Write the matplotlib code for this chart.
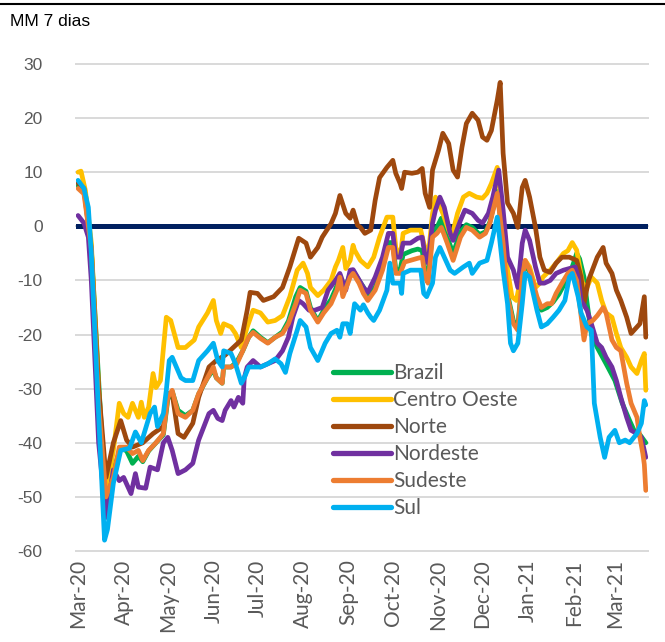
import matplotlib
matplotlib.use("Agg")
import matplotlib.pyplot as plt
import pandas as pd
from matplotlib.lines import Line2D

# days since 2020-03-01 and values (7-day moving average)
brazil_d = [0, 5, 9, 18, 19, 24, 29, 33, 37, 41, 44, 48, 53, 58, 61, 64, 68, 73, 78, 82, 88, 92, 94, 98, 99,
            104, 108, 112, 116, 119, 124, 129, 134, 139, 143, 148, 151, 155, 158, 163, 167, 172, 176, 178, 180,
            185, 187, 191, 194, 197, 202, 207, 211, 214, 216, 219, 221, 227, 231, 234, 236, 238, 241, 244, 247,
            251, 255, 260, 264, 268, 273, 277, 280, 285, 289, 292, 296, 299, 302, 304, 307, 312, 315, 319, 323,
            327, 331, 334, 336, 339, 341, 344, 346, 349, 353, 359, 365, 370, 375, 378, 382, 386]
brazil_v = [7.5, 6, -4, -48, -52, -45, -41, -41.5, -43.8, -42.5, -43.5, -41.5, -40, -38.5, -32, -30.5, -34, -35,
            -34, -31, -28, -26.5, -28, -29, -26, -26, -25, -23, -20.5, -19.3, -20.5, -21.5, -20.5, -19.5, -17.5,
            -13, -11.3, -12, -15, -17.5, -15.5, -13.5, -11, -9, -12.5, -8.8, -8.2, -10, -11.2, -12.8, -11.3, -7.5,
            -3, -3, -8, -8, -5.2, -4.5, -4.2, -4.5, -8.5, -9.5, -1, -0.2, 1.5, -2, -5, -1, 0.3, -0.2, -1.5, -1,
            0.8, 6.5, -2.5, -12.5, -17.5, -18.5, -9.5, -6.8, -8.5, -14, -15.5, -15, -14, -12.5, -10.5, -8.5,
            -7.5, -5, -6, -9.4, -14, -20, -22.4, -25.4, -28.5, -32.7, -35.9, -37.7, -38.5, -40]

co_d = [0, 2, 5, 9, 14, 19, 24, 28, 31, 34, 37, 41, 43, 45, 48, 51, 53, 56, 60, 63, 68, 73, 79, 82, 88, 92,
        94, 97, 99, 104, 107, 111, 115, 119, 124, 129, 134, 139, 144, 149, 153, 156, 158, 163, 167, 172, 175,
        177, 180, 182, 185, 187, 188, 192, 197, 201, 205, 210, 214, 216, 219, 221, 226, 233, 235, 238, 241,
        243, 245, 248, 252, 254, 258, 262, 266, 271, 275, 278, 281, 285, 289, 292, 295, 298, 302, 304, 307,
        311, 314, 316, 321, 325, 330, 333, 336, 339, 341, 343, 346, 349, 353, 356, 359, 363, 366, 369, 373,
        376, 380, 383, 385, 386]
co_v = [10, 10.2, 6.6, -3, -30, -50, -41.4, -32.7, -34.6, -35.3, -32.7, -35.3, -32.5, -35.3, -33.4, -27.2,
        -29.8, -28.5, -16.8, -17.4, -22.4, -22.4, -21, -18.6, -16, -13.7, -17.4, -19.8, -18, -18.6, -19.8,
        -22.4, -18.6, -15.5, -16, -17.7, -17.4, -16.5, -13, -8.1, -6.8, -8.7, -11.3, -12.8, -11.8, -10, -7.5,
        -6.3, -3.9, -7.8, -6.3, -3.5, -4.4, -6.3, -7.5, -5.7, -2, 1.7, 1.7, -3.9, -5.7, -1.3, -0.7, -0.7,
        -3.1, -5.7, 2.4, 5.4, 4.3, 2.4, -0.7, -2, 2.4, 5.4, 6.1, 5.4, 5.2, 6.1, 7.9, 10.9, 1.1, -8.1, -13,
        -13.7, -8.1, -6.3, -7.5, -11.3, -10.5, -9.4, -8.1, -6.8, -5, -4.5, -3, -4.4, -7.5, -10.5, -11.3,
        -9.4, -10.5, -13.7, -16, -16.8, -19.8, -22.4, -24.2, -26, -27.2, -24.8, -23.5, -30.3]

norte_d = [0, 4, 9, 14, 19, 24, 29, 33, 37, 44, 51, 58, 61, 64, 68, 72, 78, 82, 89, 94, 100, 111, 115, 117,
           122, 126, 133, 139, 144, 150, 155, 158, 163, 166, 172, 175, 178, 182, 185, 187, 190, 192, 195, 199,
           202, 205, 210, 214, 216, 219, 220, 222, 227, 231, 234, 236, 239, 241, 245, 248, 252, 255, 258, 261,
           264, 268, 272, 275, 278, 281, 285, 287, 289, 292, 296, 299, 302, 304, 307, 311, 314, 317, 321, 325,
           329, 334, 339, 342, 344, 347, 353, 357, 359, 363, 366, 369, 373, 376, 380, 382, 385, 386]
norte_v = [8, 7, -4.4, -30, -46.4, -40, -35.9, -39.5, -40.8, -40, -38.3, -37, -30.9, -30.9, -38.3, -39,
           -36.4, -31.6, -26, -24.8, -23.8, -21, -15.5, -12.2, -12.4, -13.7, -13, -11.3, -7.5, -2.2, -3.1, -5.7,
           -3.9, -2, 0.5, 2.4, 5.7, 2.4, 1.5, 3, 0.2, -0.2, -1.3, -0.7, 4.8, 9, 10.9, 12.2, 9.8, 7.9, 7, 10,
           9.8, 10, 10.7, 6.1, 3.5, 10.4, 14, 17.2, 15.3, 10.4, 9.1, 14.6, 19, 20.9, 19.6, 16.5, 15.9, 17.7,
           23.3, 26.6, 13.5, 4.3, 2.4, -0.2, 7.2, 8.5, 5.4, -0.2, -5.7, -8.1, -8.5, -6.8, -5.7, -5.7, -6.3,
           -9.4, -14.3, -10, -5.7, -3.9, -6.8, -8.7, -11.8, -13.7, -16.8, -19.8, -18.6, -18, -13, -20.5]

nordeste_d = [0, 4, 7, 9, 14, 19, 24, 28, 31, 36, 39, 41, 46, 49, 54, 58, 61, 64, 68, 73, 78, 82, 89, 92, 95,
              98, 100, 104, 106, 109, 112, 113, 115, 119, 124, 129, 134, 139, 143, 146, 150, 153, 157, 161,
              166, 170, 175, 178, 182, 185, 187, 190, 194, 197, 202, 207, 211, 214, 216, 219, 221, 226, 231,
              234, 236, 238, 241, 243, 246, 249, 253, 255, 260, 263, 268, 272, 275, 279, 282, 286, 289, 292,
              296, 299, 302, 304, 307, 311, 314, 317, 321, 325, 330, 334, 338, 340, 342, 346, 349, 353, 356,
              359, 363, 366, 369, 373, 376, 380, 383, 386]
nordeste_v = [2, 0.6, -2, -10, -40, -53.8, -45, -47, -46.4, -49.4, -45.7, -48.2, -48.4, -44.5, -45, -40, -39,
              -41.4, -45.7, -45, -43.8, -39.5, -34.6, -34, -35.5, -35.9, -34, -32.2, -33.4, -31.6, -32.7, -28,
              -26, -24.8, -26, -25.4, -24.8, -23, -20.5, -16.8, -13.7, -14.3, -15.5, -15.5, -15, -11.8, -10,
              -8.7, -11.8, -8.1, -8, -9.4, -11.3, -12.2, -9.4, -5.7, -1.3, -1.3, -5.7, -5.7, -3.1, -3.1, -2.2,
              -2, -5.7, -6.8, 0.6, 3, 5.4, 3.5, -1.3, -2.6, 1.1, 3, 2.4, 1.1, 0.6, 2.4, 5.4, 10.4, 3, -5.7,
              -8.1, -11.3, -3.1, -0.7, -2.6, -7.5, -10.5, -10.5, -10, -8.7, -8.1, -7.8, -7.5, -9.4, -13.7,
              -15.5, -18, -21.6, -22.4, -24.2, -26, -28.5, -31.6, -35.3, -37.7, -38.3, -39, -42.7]

sudeste_d = [0, 4, 9, 14, 19, 24, 28, 33, 37, 41, 44, 48, 53, 58, 61, 64, 68, 73, 78, 82, 88, 92, 94, 98, 99,
             104, 108, 112, 116, 119, 124, 129, 134, 139, 143, 148, 151, 155, 158, 163, 167, 172, 176, 178,
             180, 185, 187, 191, 194, 197, 202, 207, 211, 214, 216, 219, 222, 231, 234, 236, 238, 241, 244,
             247, 251, 255, 260, 264, 268, 273, 277, 280, 285, 289, 292, 296, 299, 302, 304, 307, 312, 315,
             319, 322, 325, 329, 333, 336, 339, 341, 344, 346, 350, 353, 357, 359, 363, 366, 369, 373, 376,
             380, 382, 384, 385, 386]
sudeste_v = [7, 6, -4, -33, -50, -46.4, -40.8, -40.8, -42, -41.4, -43.3, -41.4, -40, -38.3, -31.6, -30.3,
             -34.6, -35.3, -34, -30.9, -28, -26, -28, -29, -26, -26, -25.4, -23, -20.5, -19.6, -20.7, -21.6,
             -20.5, -19.8, -18, -14.3, -11.8, -12.4, -15.5, -17.7, -16, -14.3, -11.8, -9.4, -13, -9.4, -8.7,
             -10.5, -12.4, -13.7, -11.8, -8.1, -3.9, -3.9, -8.7, -8.7, -6.6, -5.9, -5.7, -9.4, -10.5, -2,
             -1.3, -0.2, -3.1, -6.3, -2, -0.2, -0.7, -2, -1.3, 0.6, 6.1, -3.1, -13, -18, -19.2, -9.4, -6.3,
             -8.1, -13, -15, -14.3, -14.3, -12.4, -10.5, -8.7, -8.1, -10, -14.3, -21, -18, -17.4, -16.5, -15,
             -16, -21, -22.4, -23, -29, -32.7, -35.3, -39, -42, -44, -48.8]

sul_d = [0, 4, 7, 9, 14, 18, 20, 24, 29, 35, 39, 43, 47, 49, 52, 54, 58, 60, 62, 64, 70, 73, 78, 82, 88, 92,
         95, 98, 99, 104, 107, 111, 113, 116, 124, 129, 134, 138, 141, 144, 149, 151, 155, 158, 163, 168, 172,
         176, 178, 180, 183, 185, 188, 192, 194, 197, 199, 201, 205, 210, 212, 214, 219, 220, 221, 226, 233,
         235, 237, 241, 243, 246, 249, 253, 256, 262, 266, 268, 273, 278, 281, 285, 289, 292, 294, 296, 299,
         302, 304, 307, 312, 315, 319, 323, 327, 331, 334, 336, 340, 342, 346, 349, 351, 355, 358, 361, 365,
         368, 372, 375, 380, 383, 385, 386]
sul_v = [8.5, 7, 3.5, -5, -35, -58, -56, -47.5, -41.4, -41, -38, -40, -36.4, -34.6, -33.4, -37, -34.6, -30.3,
         -24.8, -24.2, -28, -28.5, -28.5, -24.8, -23, -21.6, -24.8, -26, -23, -23.5, -25.4, -29, -28, -26, -26,
         -25.4, -24.5, -25.4, -27, -23.5, -19.2, -17.4, -18.6, -22.4, -24.8, -21.6, -19.8, -19.2, -20.5, -18,
         -18, -19.8, -14.3, -15.5, -14.5, -16, -16.8, -17.4, -15.5, -11.8, -6.8, -10.5, -10.5, -12.4, -8.7,
         -8.1, -8.1, -12.4, -13, -10.5, -5.7, -3.9, -5.7, -8.1, -8.7, -7.5, -6.8, -8.7, -6.8, -6.3, -3.1, 1.7,
         -8.1, -14.3, -21.6, -23, -21.6, -14.3, -8.7, -9.4, -15.5, -18.6, -18, -16.8, -15.5, -13.7, -9.4,
         -8.7, -13, -16, -18.6, -19.2, -32.7, -39, -42.7, -39, -37.7, -40, -39.5, -40, -38.3, -36.4, -32.2,
         -33]

series = [
    ("Brazil", brazil_d, brazil_v, "#00B050"),
    ("Centro Oeste", co_d, co_v, "#FFC000"),
    ("Norte", norte_d, norte_v, "#9E480E"),
    ("Nordeste", nordeste_d, nordeste_v, "#7030A0"),
    ("Sudeste", sudeste_d, sudeste_v, "#ED7D31"),
    ("Sul", sul_d, sul_v, "#00B0F0"),
]

start = pd.Timestamp("2020-03-01")
def to_dates(days):
    return start + pd.to_timedelta(days, unit="D")

fig = plt.figure(figsize=(6.65, 6.42), dpi=100)
ax = fig.add_axes([76 / 665, 1 - 551 / 642, 572 / 665, 487 / 642])

for y in range(-60, 31, 10):
    ax.axhline(y, color="#D9D9D9", lw=1.4, zorder=0, clip_on=False)
ax.axhline(0, color="#002060", lw=3.6, zorder=1)

for name, d, v, c in series:
    ax.plot(to_dates(d), v, color=c, lw=3.4, label=name, zorder=2,
            solid_joinstyle="round", solid_capstyle="round")

ax.set_ylim(-60, 30)
ax.set_xlim(to_dates([-1.4])[0], to_dates([387.5])[0])
ax.set_yticks(range(-60, 31, 10))
ax.set_yticklabels([str(t) for t in range(-60, 31, 10)], family="Liberation Sans",
                   fontsize=12.5, color="#595959")

months = pd.date_range("2020-03-01", "2021-03-01", freq="MS")
ax.set_xticks(months)
ax.set_xticklabels([m.strftime("%b-%y") for m in months], rotation=90, family="Lato",
                   fontsize=15, color="#595959")
ax.tick_params(axis="both", length=0)
ax.tick_params(axis="y", pad=24)
ax.tick_params(axis="x", pad=6)
for s in ax.spines.values():
    s.set_visible(False)

leg = ax.legend(loc="upper left", bbox_to_anchor=((333 - 76) / 572, (551 - 363) / 487),
                frameon=False, prop={"family": "Lato", "size": 15}, handlelength=2.8,
                handletextpad=0.1, labelspacing=0.34, borderpad=0, borderaxespad=0)
for t in leg.get_texts():
    t.set_color("#595959")
for h in leg.get_lines():
    h.set_linewidth(3.8)

fig.text(10 / 665, 1 - 22 / 642, "MM 7 dias", family="Liberation Sans", fontsize=12.5,
         color="#000000", va="center", ha="left")
fig.add_artist(Line2D([0, 1], [1 - 4 / 642, 1 - 4 / 642], color="black", lw=1.5))

fig.savefig("out.png", dpi=100)
